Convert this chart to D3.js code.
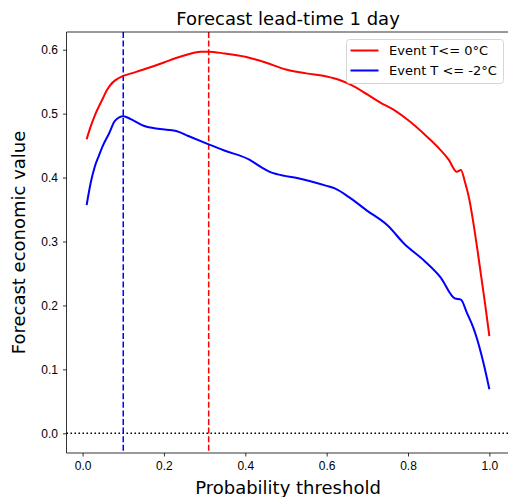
<!DOCTYPE html>
<html>
<head>
<meta charset="utf-8">
<script src="https://cdn.jsdelivr.net/npm/d3@7"></script>
<style>
  body { margin: 0; background: #fff; }
  svg { display: block; font-family: "DejaVu Sans", sans-serif; }
  .axis path, .axis line { stroke: #000; stroke-width: 0.8; }
  .axis text { font-size: 12px; fill: #000; }
</style>
</head>
<body>
<div id="chart"></div>
<script>
// valores
const redThresh = [0.01, 0.02, 0.03, 0.04, 0.05, 0.06, 0.07, 0.08, 0.10, 0.12, 0.15, 0.20, 0.23, 0.26, 0.29, 0.31,
  0.35, 0.40, 0.45, 0.50, 0.55, 0.60, 0.63, 0.66, 0.70, 0.73, 0.77, 0.80, 0.85, 0.88, 0.90, 0.92, 0.93, 0.94, 0.95, 0.96, 0.97, 0.98, 0.99, 1.00];
const redValue = [0.460, 0.480, 0.497, 0.511, 0.524, 0.537, 0.546, 0.552, 0.559, 0.563, 0.569, 0.580, 0.587, 0.593, 0.597, 0.597,
  0.594, 0.589, 0.580, 0.569, 0.563, 0.558, 0.553, 0.545, 0.530, 0.518, 0.504, 0.490, 0.462, 0.443, 0.428, 0.409, 0.412, 0.393, 0.368, 0.332, 0.290, 0.245, 0.200, 0.152];

const blueThresh = [0.01, 0.02, 0.03, 0.04, 0.05, 0.065, 0.08, 0.10, 0.12, 0.15, 0.19, 0.23, 0.26, 0.31, 0.35, 0.41, 0.44, 0.46, 0.48,
  0.53, 0.60, 0.62, 0.66, 0.70, 0.75, 0.79, 0.84, 0.88, 0.915, 0.93, 0.945, 0.96, 0.97, 0.98, 0.99, 1.00];
const blueValue = [0.357, 0.392, 0.417, 0.434, 0.450, 0.469, 0.489, 0.496, 0.491, 0.481, 0.476, 0.473, 0.465, 0.452, 0.442, 0.428, 0.416, 0.409, 0.405,
  0.399, 0.387, 0.383, 0.367, 0.348, 0.325, 0.297, 0.270, 0.244, 0.211, 0.209, 0.188, 0.166, 0.147, 0.124, 0.098, 0.069];

const seriesNames = ['Event T<= 0°C', 'Event T <= -2°C'];
const seriesColors = ['red', 'blue'];
const bestThresh = [0.31, 0.10];   // linhas verticais tracejadas
const xTicks = [0, 0.2, 0.4, 0.6, 0.8, 1.0];
const yTicks = [0, 0.1, 0.2, 0.3, 0.4, 0.5, 0.6];

const W = 508, H = 497;
const mLeft = 66.5, mRight = 509.5, mTop = 32, mBottom = 453;

const svg = d3.select('#chart').append('svg')
  .attr('width', W).attr('height', H);

const x = d3.scaleLinear().domain([-0.0395, 1.0495]).range([mLeft, mRight]);
const y = d3.scaleLinear().domain([-0.0308, 0.6277]).range([mBottom, mTop]);

// linha do zero
svg.append('line')
  .attr('x1', mLeft).attr('x2', mRight)
  .attr('y1', y(0)).attr('y2', y(0))
  .attr('stroke', '#000').attr('stroke-width', 1.5)
  .attr('stroke-dasharray', '1.5,2.5');

const series = [
  { name: seriesNames[0], color: seriesColors[0], pts: redThresh.map((t, i) => [t, redValue[i]]) },
  { name: seriesNames[1], color: seriesColors[1], pts: blueThresh.map((t, i) => [t, blueValue[i]]) }
];

const line = d3.line().x(d => x(d[0])).y(d => y(d[1])).curve(d3.curveMonotoneX);

// linhas verticais
series.forEach((s, i) => {
  svg.append('line')
    .attr('x1', x(bestThresh[i])).attr('x2', x(bestThresh[i]))
    .attr('y1', mTop).attr('y2', mBottom)
    .attr('stroke', s.color).attr('stroke-width', 1.5)
    .attr('stroke-dasharray', '6,2.6');
});

series.forEach(s => {
  svg.append('path')
    .attr('d', line(s.pts))
    .attr('fill', 'none')
    .attr('stroke', s.color)
    .attr('stroke-width', 2);
});

// eixos
svg.append('g')
  .attr('class', 'axis')
  .attr('transform', `translate(0,${mBottom})`)
  .call(d3.axisBottom(x).tickValues(xTicks).tickFormat(d3.format('.1f')).tickSize(3.5).tickSizeOuter(0).tickPadding(5))
  .call(g => g.select('.domain').remove());

svg.append('g')
  .attr('class', 'axis')
  .attr('transform', `translate(${mLeft},0)`)
  .call(d3.axisLeft(y).tickValues(yTicks).tickFormat(d3.format('.1f')).tickSize(3.5).tickSizeOuter(0).tickPadding(5))
  .call(g => g.select('.domain').remove());

// moldura
svg.append('path')
  .attr('d', `M${mRight},${mTop}H${mLeft}V${mBottom}H${mRight}`)
  .attr('fill', 'none').attr('stroke', '#000').attr('stroke-width', 0.8);

// titulo e rotulos
svg.append('text')
  .attr('x', (mLeft + mRight) / 2).attr('y', 25)
  .attr('text-anchor', 'middle')
  .style('font-size', '18px')
  .text('Forecast lead-time 1 day');

svg.append('text')
  .attr('x', (mLeft + mRight) / 2).attr('y', 494)
  .attr('text-anchor', 'middle')
  .style('font-size', '18px')
  .text('Probability threshold');

svg.append('text')
  .attr('transform', `translate(25,${(mTop + mBottom) / 2}) rotate(-90)`)
  .attr('text-anchor', 'middle')
  .style('font-size', '18px')
  .text('Forecast economic value');

// legenda
const lg = svg.append('g').attr('transform', 'translate(346.5,39.5)');
lg.append('rect')
  .attr('width', 157).attr('height', 44).attr('rx', 3)
  .attr('fill', '#fff').attr('fill-opacity', 0.8)
  .attr('stroke', '#ccc').attr('stroke-width', 0.8);
series.forEach((s, i) => {
  const yy = 11 + i * 20;
  lg.append('line')
    .attr('x1', 4).attr('x2', 32).attr('y1', yy).attr('y2', yy)
    .attr('stroke', s.color).attr('stroke-width', 2);
  lg.append('text')
    .attr('x', 42.5).attr('y', yy).attr('dy', '0.35em')
    .style('font-size', '13px')
    .text(s.name);
});
</script>
</body>
</html>
